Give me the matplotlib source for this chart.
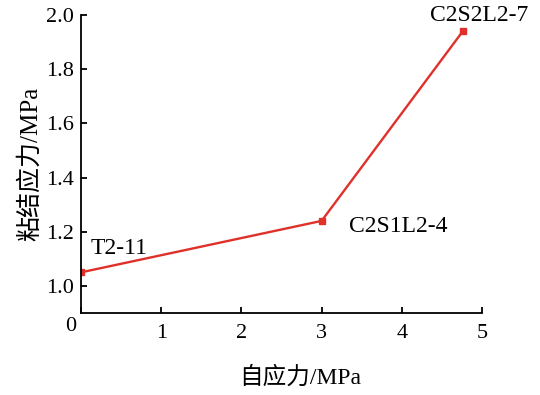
import matplotlib
matplotlib.use("Agg")
import matplotlib.pyplot as plt
import matplotlib.transforms as mtransforms

## data
self_stress = [0.0, 3.0, 4.76]          # 自应力 / MPa
bond_stress = [1.05, 1.24, 1.94]        # 粘结应力 / MPa
specimens = ["T2-11", "C2S1L2-4", "C2S2L2-7"]
label_pos = [(0.48, 1.137), (3.95, 1.22), (4.96, 2.0)]
xticks = [0, 1, 2, 3, 4, 5]
yticks = [1.0, 1.2, 1.4, 1.6, 1.8, 2.0]

plt.rcParams['font.family'] = ['Liberation Serif', 'Noto Sans CJK SC']
plt.rcParams['axes.unicode_minus'] = False

fig = plt.figure(figsize=(5.4, 3.95), dpi=100)
ax = fig.add_axes([0.15, 0.2076, 0.7426, 0.7544])

ax.plot(self_stress, bond_stress, color='#e0302a', lw=1.7,
        marker='s', ms=4, mfc='#e0302a', mec='#e0302a')

for name, (tx, ty) in zip(specimens, label_pos):
    ax.text(tx, ty, name, fontsize=17, ha='center', va='center', clip_on=False)

ax.set_xlim(0, 5)
ax.set_ylim(0.9, 2.0)
ax.set_xticks(xticks)
ax.set_yticks(yticks)
ax.set_xticklabels([str(v) for v in xticks])
ax.set_yticklabels(["%.1f" % v for v in yticks])

ax.spines['top'].set_visible(False)
ax.spines['right'].set_visible(False)
for s in ['left', 'bottom']:
    ax.spines[s].set_linewidth(1.3)

ax.tick_params(axis='both', direction='in', length=4, width=1.3, labelsize=16)
ax.tick_params(axis='x', pad=8)
ax.tick_params(axis='y', pad=5)

# the "0" sits at the corner, shifted left and up a bit
lbl0 = ax.get_xticklabels()[0]
lbl0.set_transform(lbl0.get_transform() +
                   mtransforms.ScaledTranslation(-10 / 100, 7 / 100, fig.dpi_scale_trans))

fig.text(300 / 540, 1 - 378 / 395, "自应力/MPa", fontsize=17, ha='center', va='center')
fig.text(30 / 540, 1 - 164 / 395, "粘结应力/MPa", fontsize=18, ha='center', va='center',
         rotation=90)

fig.savefig("out.png", dpi=100)
